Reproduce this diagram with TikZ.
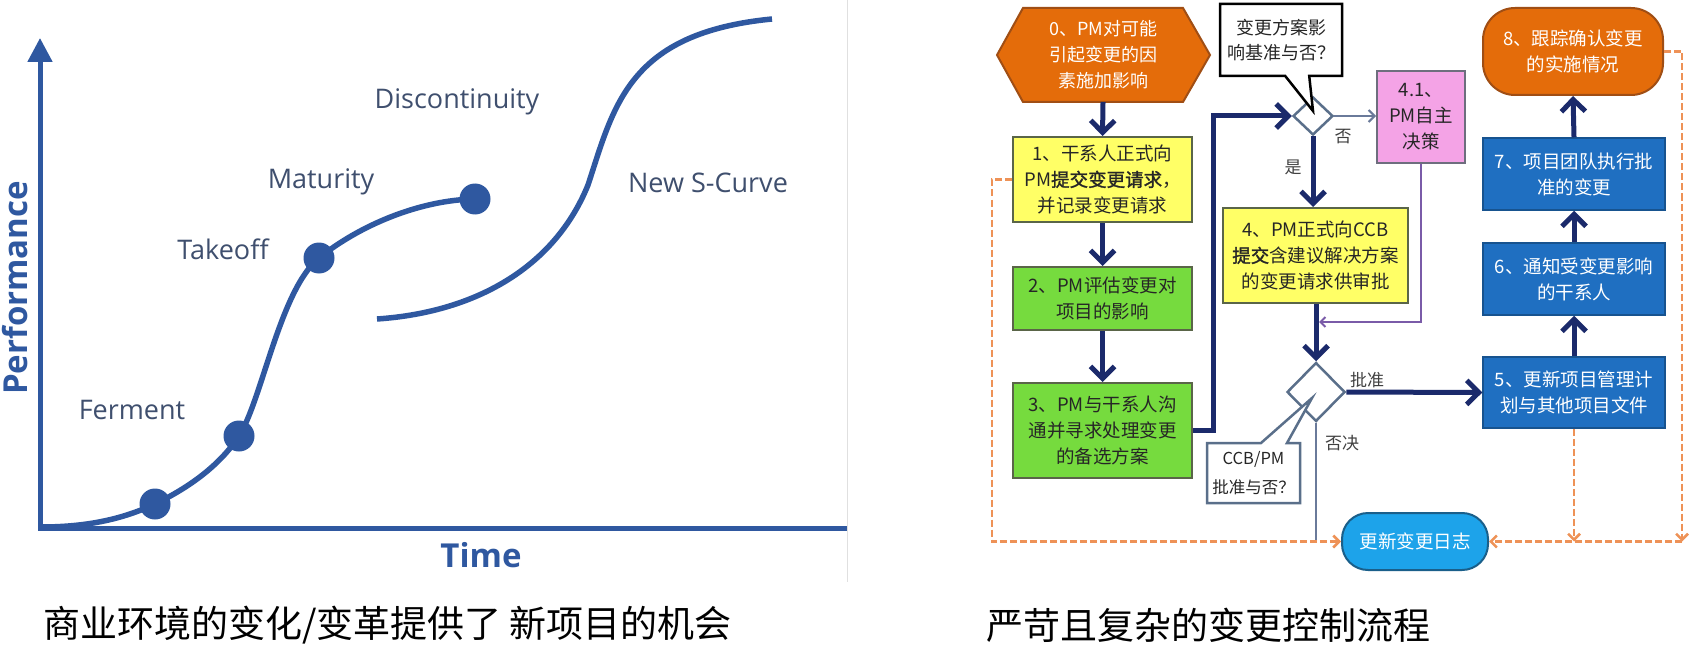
\documentclass[tikz,border=0pt]{standalone}
\usepackage{fontspec}
\newfontfamily\osans{Open Sans}
\newfontfamily\cjk{Noto Sans CJK SC}
\newfontfamily\cjkb{Noto Sans CJK SC}[FakeBold=1.6]
\usetikzlibrary{arrows.meta,shapes.geometric,shapes.callouts}
\definecolor{curveblue}{HTML}{2F58A0}
\definecolor{lblcol}{HTML}{3F4F6E}
\definecolor{navy}{HTML}{1B2A6B}
\definecolor{hexor}{HTML}{E46C0A}
\definecolor{hexbd}{HTML}{A04E14}
\definecolor{yelf}{HTML}{FFFF66}
\definecolor{grnf}{HTML}{76DB3E}
\definecolor{boxbd}{HTML}{5A6548}
\definecolor{pinkf}{HTML}{F4A3E6}
\definecolor{pinkbd}{HTML}{6E6E7E}
\definecolor{bluef}{HTML}{1F6FC1}
\definecolor{bluebd}{HTML}{17538F}
\definecolor{logf}{HTML}{1DA3EA}
\definecolor{logbd}{HTML}{1A5F8A}
\definecolor{dashor}{HTML}{EE9257}
\definecolor{diabd}{HTML}{5A6F8A}
\definecolor{purp}{HTML}{7A5BA8}
\definecolor{grayln}{HTML}{6A7A9A}
\definecolor{txtdark}{HTML}{262626}
\tikzset{
  navyarrow/.style={draw=navy, line width=5pt, -{Straight Barb[length=12pt,width=24pt]}},
  dasharrow/.style={draw=dashor, line width=2.5pt, dash pattern=on 7pt off 3pt, -{Straight Barb[length=6pt,width=12pt]}},
  boxtext/.style={font=\cjk\fontsize{18.5}{26}\selectfont, align=center, inner sep=0pt},
  yelbox/.style={boxtext, rectangle, draw=boxbd, fill=yelf, line width=2pt, text=txtdark},
  grnbox/.style={boxtext, rectangle, draw=boxbd, fill=grnf, line width=2pt, text=txtdark},
  blubox/.style={boxtext, rectangle, draw=bluebd, fill=bluef, line width=1.5pt, text=white},
  diam/.style={diamond, draw=diabd, fill=white, line width=2.5pt, inner sep=0pt},
  callbox/.style={rectangle callout, fill=white, line width=2.5pt, align=center, inner sep=0pt,
     font=\cjk\fontsize{18}{25}\selectfont, text=txtdark},
  smalllbl/.style={font=\cjk\fontsize{17}{20}\selectfont, text=black!75},
  chartlbl/.style={font=\osans\fontsize{27}{30}\selectfont, text=lblcol},
  axislbl/.style={font=\osans\bfseries\fontsize{33}{36}\selectfont, text=curveblue},
  dot/.style={circle, fill=curveblue, minimum size=31pt, inner sep=0pt},
  caption/.style={font=\cjk\fontsize{37}{40}\selectfont, text=black, anchor=west, inner sep=0pt}
}
\begin{document}
\begin{tikzpicture}[x=1pt,y=-1pt]
\useasboundingbox (0,0) rectangle (1696,671);
\fill[white] (0,0) rectangle (1696,671);

% ---------- left chart ----------
\draw[black!12, line width=1pt] (847,0) -- (847,582);
\draw[curveblue, line width=5pt] (38,528) -- (847,528);
\draw[curveblue, line width=5pt, -{Triangle[length=24pt,width=24pt]}] (40,530) -- (40,38);
\node[axislbl, rotate=90] (perf) at (15,288) {Performance};
\node[axislbl] (time) at (481,555) {Time};

\node[dot] (p1) at (155,504) {};
\node[dot] (p2) at (239,436) {};
\node[dot] (p3) at (319,258) {};
\node[dot] (p4) at (475,199) {};

\draw[curveblue, line width=5.5pt, line cap=round]
  (41,527) .. controls (90,527) and (125,518) .. (p1.center)
  .. controls (190,487) and (220,465) .. (p2.center)
  .. controls (262,400) and (280,290) .. (p3.center)
  .. controls (360,225) and (420,200) .. (p4.center);
\draw[curveblue, line width=5.5pt]
  (377,319) .. controls (480,312) and (556,264) .. (588,185)
  .. controls (614,106) and (628,33) .. (772,19);

\node[chartlbl] (lf) at (132,410) {Ferment};
\node[chartlbl] (lt) at (223,249) {Takeoff};
\node[chartlbl] (lm) at (321,182) {Maturity};
\node[chartlbl] (ld) at (457,102) {Discontinuity};
\node[chartlbl] (ln) at (708,183) {New S-Curve};

% ---------- right flowchart ----------
\draw[draw=hexbd, fill=hexor, line width=2pt] (997,55) -- (1023,8) -- (1183,8) -- (1210,55) -- (1183,102) -- (1023,102) -- cycle;
\node[boxtext, text=white, font=\cjk\fontsize{18}{26}\selectfont, minimum width=160pt, minimum height=94pt] (n0) at (1103,55)
  {0、PM对可能\\引起变更的因\\素施加影响};

\node[yelbox, minimum width=179pt, minimum height=85pt] (n1) at (1102.5,179.5)
  {1、干系人正式向\\PM{\cjkb 提交变更请求}，\\并记录变更请求};
\node[grnbox, minimum width=179pt, minimum height=63pt] (n2) at (1102.5,298.5)
  {2、PM评估变更对\\项目的影响};
\node[grnbox, minimum width=179pt, minimum height=95pt] (n3) at (1102.5,430.5)
  {3、PM与干系人沟\\通并寻求处理变更\\的备选方案};

\node[diam, minimum width=40pt, minimum height=38pt] (d1) at (1313,116) {};
\node[callbox, draw=black, minimum width=122pt, minimum height=72pt,
      callout absolute pointer={(1313,111)}, callout pointer width=24pt] (c1) at (1281,40)
  {变更方案影\\响基准与否？};

\node[boxtext, rectangle, draw=pinkbd, fill=pinkf, line width=2pt, text=txtdark,
      minimum width=88pt, minimum height=92pt] (n41) at (1421,117) {4.1、\\PM自主\\决策};
\node[yelbox, minimum width=185pt, minimum height=95pt] (n4) at (1315.5,255.5)
  {4、PM正式向CCB\\{\cjkb 提交}含建议解决方案\\的变更请求供审批};

\node[diam, minimum width=58pt, minimum height=59pt] (d2) at (1316,392) {};
\node[callbox, draw=diabd, minimum width=93pt, minimum height=60pt,
      callout absolute pointer={(1312,398)}, callout pointer width=26pt,
      font=\cjk\fontsize{16.5}{29}\selectfont] (c2) at (1253.5,473)
  {CCB/PM\\批准与否？};

\node[blubox, minimum width=182pt, minimum height=71pt] (n5) at (1574,392.5)
  {5、更新项目管理计\\划与其他项目文件};
\node[blubox, minimum width=182pt, minimum height=72pt] (n6) at (1574,279)
  {6、通知受变更影响\\的干系人};
\node[blubox, minimum width=182pt, minimum height=72pt] (n7) at (1574,174)
  {7、项目团队执行批\\准的变更};
\node[boxtext, rectangle, rounded corners=32pt, draw=hexbd, fill=hexor, line width=2pt, text=white,
      minimum width=180pt, minimum height=87pt] (n8) at (1573,51.5)
  {8、跟踪确认变更\\的实施情况};
\node[boxtext, rectangle, rounded corners=26pt, draw=logbd, fill=logf, line width=2pt, text=white,
      minimum width=146pt, minimum height=57pt] (log) at (1415,541.5) {更新变更日志};

\coordinate (j1) at (1319,322);
\coordinate (j2) at (1316,541.5);
\coordinate (j3) at (1574,541.5);
\coordinate (j4) at (1682,541.5);

% solid connectors
\draw[navyarrow] (n0.south) -- (n1.north);
\draw[navyarrow] (n1.south) -- (n2.north);
\draw[navyarrow] (n2.south) -- (n3.north);
\draw[navyarrow] (n3.east) -- ++(20,0) |- (d1.west);
\draw[navyarrow] (d1.south) -- (d1.south |- n4.north);
\draw[grayln, line width=2pt, -{Straight Barb[length=6pt,width=12pt]}] (d1.east) -- (d1.east -| n41.west);
\draw[purp, line width=2pt, -{Straight Barb[length=5pt,width=10pt]}] (n41.south) |- (j1);
\draw[navyarrow] (n4.south -| d2.north) -- (d2.north);
\draw[navyarrow] (d2.east) -- (n5.west);
\draw[grayln, line width=2pt] (d2.south) -- (j2);
\draw[navyarrow] (n5.north) -- (n6.south);
\draw[navyarrow] (n6.north) -- (n7.south);
\draw[navyarrow] (n7.north) -- (n8.south);

% dashed connectors
\draw[dasharrow] (n1.west) -- ++(-20,0) |- (log.west);
\draw[dasharrow] (n5.south) -- (j3);
\draw[dasharrow] (n8.east) -| (j4);
\draw[dasharrow] (j4) -- (log.east);

% labels
\node[smalllbl] (lno1) at (1343,137) {否};
\node[smalllbl] (lyes) at (1293,167) {是};
\node[smalllbl] (lok) at (1367,380) {批准};
\node[smalllbl] (lrej) at (1342,443) {否决};

% captions
\node[caption] (cap1) at (43,625) {商业环境的变化/变革提供了 新项目的机会};
\node[caption] (cap2) at (986,625) {严苛且复杂的变更控制流程};
\end{tikzpicture}
\end{document}
